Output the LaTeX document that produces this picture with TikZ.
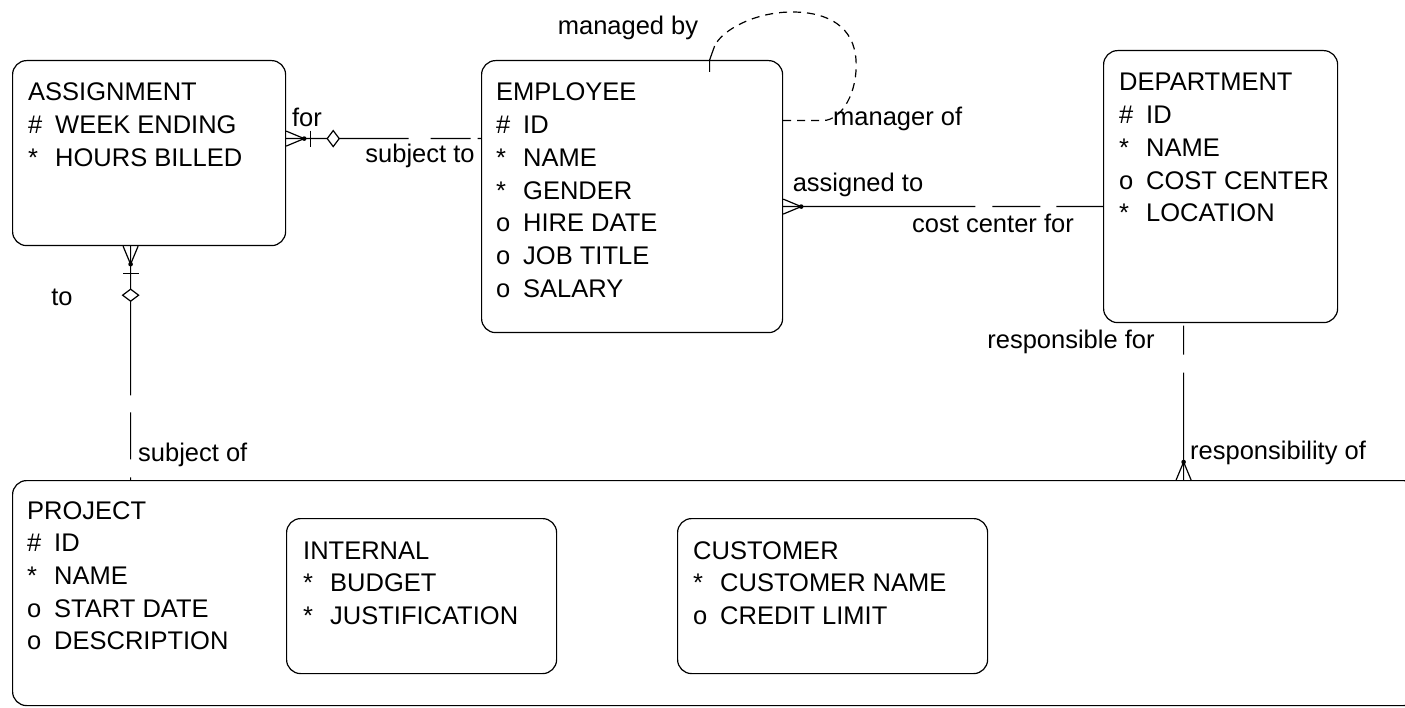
\documentclass[tikz,border=0pt]{standalone}
\usepackage{fontspec}
\setmainfont{Liberation Sans}
\usetikzlibrary{calc}
\newcommand\mkr[1]{\makebox[27pt][l]{#1}}
\newcommand\entitytext[4]{%
  \foreach \lt [count=\i] in {#4} {\node[txt] (#1-\i) at (#2,{#3+(\i-1)*32.7}) {\lt};}}
\begin{document}
\begin{tikzpicture}[x=1pt,y=-1pt,
  ent/.style={draw, line width=1.2pt, rounded corners=14pt, inner sep=0pt, anchor=north west},
  txt/.style={inner sep=0pt, anchor=base west, font=\fontsize{25.5}{30}\selectfont},
  lbl/.style={inner sep=0pt, font=\fontsize{25.5}{30}\selectfont},
  rel/.style={line width=1.2pt},
  loopline/.style={rel, dash pattern=on 8pt off 6pt},
  crow/.pic={\draw[rel] (0,-7.5) -- (18,0) -- (0,7.5); \fill (18,0) circle (2.3pt);},
  uidbar/.pic={\draw[rel] (0,-8) -- (0,8);},
  diam/.pic={\draw[rel,fill=white] (-6,0) -- (0,-8) -- (6,0) -- (0,8) -- cycle;}
]
\useasboundingbox (0,0) rectangle (1405,708);
\fill[white] (0,0) rectangle (1405,708);
\clip (0,0) rectangle (1405,708);

% entities
\node[ent, minimum width=273pt, minimum height=185pt] (asg) at (12,60) {};
\node[ent, minimum width=301pt, minimum height=272pt] (emp) at (481,60) {};
\node[ent, minimum width=234pt, minimum height=272pt] (dep) at (1103,50) {};
\node[ent, minimum width=1405pt, minimum height=225pt] (prj) at (12,480) {};
\node[ent, minimum width=270pt, minimum height=155pt] (int) at (286,518) {};
\node[ent, minimum width=310pt, minimum height=155pt] (cus) at (677,518) {};

\entitytext{asgt}{28}{101}{{ASSIGNMENT},{\mkr{\#}WEEK ENDING},{\mkr{*}HOURS BILLED}}
\entitytext{empt}{496}{101}{{EMPLOYEE},{\mkr{\#}ID},{\mkr{*}NAME},{\mkr{*}GENDER},{\mkr{o}HIRE DATE},{\mkr{o}JOB TITLE},{\mkr{o}SALARY}}
\entitytext{dept}{1119}{91}{{DEPARTMENT},{\mkr{\#}ID},{\mkr{*}NAME},{\mkr{o}COST CENTER},{\mkr{*}LOCATION}}
\entitytext{prjt}{27}{519}{{PROJECT},{\mkr{\#}ID},{\mkr{*}NAME},{\mkr{o}START DATE},{\mkr{o}DESCRIPTION}}
\entitytext{intt}{303}{559}{{INTERNAL},{\mkr{*}BUDGET},{\mkr{*}JUSTIFICATION}}
\entitytext{cust}{693}{559}{{CUSTOMER},{\mkr{*}CUSTOMER NAME},{\mkr{o}CREDIT LIMIT}}

% ASSIGNMENT - EMPLOYEE
\coordinate (ae1) at ([yshift=14.5pt]asg.east);
\coordinate (ae2) at (ae1 -| emp.west);
\coordinate (aem) at ($(ae1)!0.628!(ae2)$);
\draw[rel] (ae1) -- (aem);
\draw[rel, dash pattern=on 0pt off 22pt on 40pt off 7pt on 20pt] (aem) -- (ae2);
\pic at (ae1) {crow};
\pic at ($(ae1)+(24,0)$) {uidbar};
\pic at ($(ae1)+(47,0)$) {diam};

% EMPLOYEE - DEPARTMENT
\coordinate (ed1) at ([yshift=-10pt]emp.east);
\coordinate (ed2) at (ed1 -| dep.west);
\coordinate (edm) at ($(ed1)!0.601!(ed2)$);
\draw[rel] (ed1) -- (edm);
\draw[rel, dash pattern=on 0pt off 17pt on 48pt off 16pt on 60pt] (edm) -- (ed2);
\pic at (ed1) {crow};

% ASSIGNMENT - PROJECT
\coordinate (ap1) at ([xshift=-18.5pt]asg.south);
\coordinate (ap2) at (ap1 |- prj.north);
\coordinate (apm) at ($(ap1)!0.638!(ap2)$);
\draw[rel] (ap1) -- (apm);
\draw[rel, dash pattern=on 0pt off 17pt on 47pt off 18pt on 10pt] (apm) -- (ap2);
\pic[rotate=-90] at (ap1) {crow};
\pic[rotate=-90] at ($(ap1)+(0,27)$) {uidbar};
\pic[rotate=-90] at ($(ap1)+(0,49)$) {diam};

% DEPARTMENT - PROJECT
\coordinate (dp1) at ([xshift=-37pt]dep.south);
\coordinate (dp2) at (dp1 |- prj.north);
\coordinate (dpm) at ($(dp1)!0.316!(dp2)$);
\draw[rel] (dpm) -- (dp2);
\draw[rel, dash pattern=on 0pt off 18pt on 29pt off 10pt] (dpm) -- (dp1);
\pic[rotate=90] at (dp2) {crow};

% EMPLOYEE self relation
\coordinate (lp1) at ([yshift=76pt]emp.east);
\coordinate (lp2) at ([xshift=77.5pt]emp.north);
\coordinate (lpt) at ($(lp2)+(5,-14)$);
\draw[loopline] (lp1) -- ($(lp1)+(40,0)$) .. controls (842,120) and (858,92) .. (856,60)
  .. controls (854,28) and (830,12) .. (792,12) .. controls (755,12) and (722,30) .. (lpt);
\draw[rel] (lpt) -- (lp2) -- ($(lp2)+(0,12)$);

% labels
\node[lbl] (l-for) at (307,117) {for};
\node[lbl] (l-subjto) at (420,156) {subject to};
\node[lbl] (l-mgdby) at (628,28) {managed by};
\node[lbl, anchor=west] (l-mgrof) at (833,119) {manager of};
\node[lbl] (l-asgto) at (858,185) {assigned to};
\node[lbl] (l-ccfor) at (993,223) {cost center for};
\node[lbl] (l-to) at (62,297) {to};
\node[lbl, anchor=west] (l-subjof) at (138,455) {subject of};
\node[lbl] (l-respfor) at (1071,342) {responsible for};
\node[lbl, anchor=west] (l-respof) at (1190,453) {responsibility of};
\end{tikzpicture}
\end{document}
